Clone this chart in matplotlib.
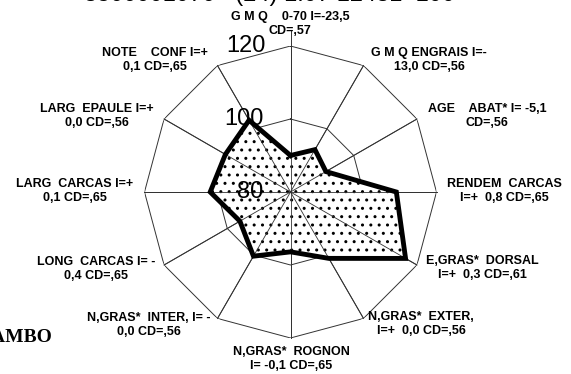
import matplotlib
matplotlib.use('Agg')
import matplotlib.pyplot as plt
import numpy as np

W, H = 571, 374

# profile axes, clockwise from the top
LABELS = [
    'G M Q    0-70 I=-23,5\nCD=,57',
    'G M Q ENGRAIS I=-\n13,0 CD=,56',
    'AGE    ABAT* I= -5,1\nCD=,56',
    'RENDEM  CARCAS\nI=+  0,8 CD=,65',
    'E,GRAS*  DORSAL\nI=+  0,3 CD=,61',
    'N,GRAS*  EXTER,\nI=+  0,0 CD=,56',
    'N,GRAS*  ROGNON\nI= -0,1 CD=,65',
    'N,GRAS*  INTER, I= -\n0,0 CD=,56',
    'LONG  CARCAS I= -\n0,4 CD=,65',
    'LARG  CARCAS I=+\n0,1 CD=,65',
    'LARG  EPAULE I=+\n0,0 CD=,56',
    'NOTE    CONF I=+\n0,1 CD=,65',
]
VALUES = [90.0, 93.4, 91.2, 109.0, 116.4, 101.0, 96.4, 100.3, 96.0, 102.0, 100.6, 102.7]
RINGS = [100, 120]
RMIN, RMAX = 80, 120

# label block centres in pixels (x, y from top)
LABEL_POS = [(290, 24), (429, 60), (487, 116), (504, 191), (482, 268), (421, 324),
             (291, 359), (149, 325), (96, 269), (75, 191), (97, 116), (155, 60)]

FONT = 'Liberation Sans'

fig = plt.figure(figsize=(W / 100, H / 100), dpi=100)
cx, cy, R = 290.5, 192, 146
ax = fig.add_axes([(cx - R) / W, (H - cy - R) / H, 2 * R / W, 2 * R / H], projection='polar')
ax.set_theta_zero_location('N')
ax.set_theta_direction(-1)
ax.set_rlim(RMIN, RMAX)
ax.grid(False)
ax.set_xticks([])
ax.set_yticks([])
ax.spines['polar'].set_visible(False)
ax.patch.set_alpha(0)

theta = np.deg2rad(np.arange(len(VALUES)) * 360 / len(VALUES))
closed = np.append(theta, theta[0])

# dodecagon rings and spokes
for r in RINGS:
    ax.plot(closed, [r] * len(closed), color='#333333', lw=0.7, zorder=1)
for i, t in enumerate(theta):
    top = 124 if i == 0 else RMAX
    ax.plot([t, t], [RMIN, top], color='#333333', lw=0.7, zorder=1, clip_on=False)

vals = np.append(VALUES, VALUES[0])
ax.fill(closed, vals, facecolor='white', edgecolor='black', hatch='..', lw=0, zorder=2)
ax.plot(closed, vals, color='black', lw=3.5, solid_joinstyle='miter', zorder=4)
# spokes stay visible over the dotted fill
for t in theta:
    ax.plot([t, t], [RMIN, RMAX], color='#333333', lw=0.6, zorder=3)

for r, dx in [(80, -40), (100, -47), (120, -45)]:
    ax.annotate(str(r), xy=(0, r), xytext=(dx, 0), textcoords='offset pixels',
                ha='center', va='center', fontsize=17, family=FONT, zorder=5,
                annotation_clip=False)

for text, (x, y) in zip(LABELS, LABEL_POS):
    fig.text(x / W, 1 - y / H, text, ha='center', va='center', fontsize=9,
             fontweight='bold', family=FONT, linespacing=1.2)

fig.text(455 / W, 1 - 1 / H, '3500001070   (24) 1.07 12431  100', ha='right',
         va='baseline', fontsize=17, family=FONT)
fig.text(53 / W, 1 - 337 / H, 'LAMBO', ha='right', va='center', fontsize=14,
         fontweight='bold', family='Liberation Serif')

fig.savefig('out.png', dpi=100)
